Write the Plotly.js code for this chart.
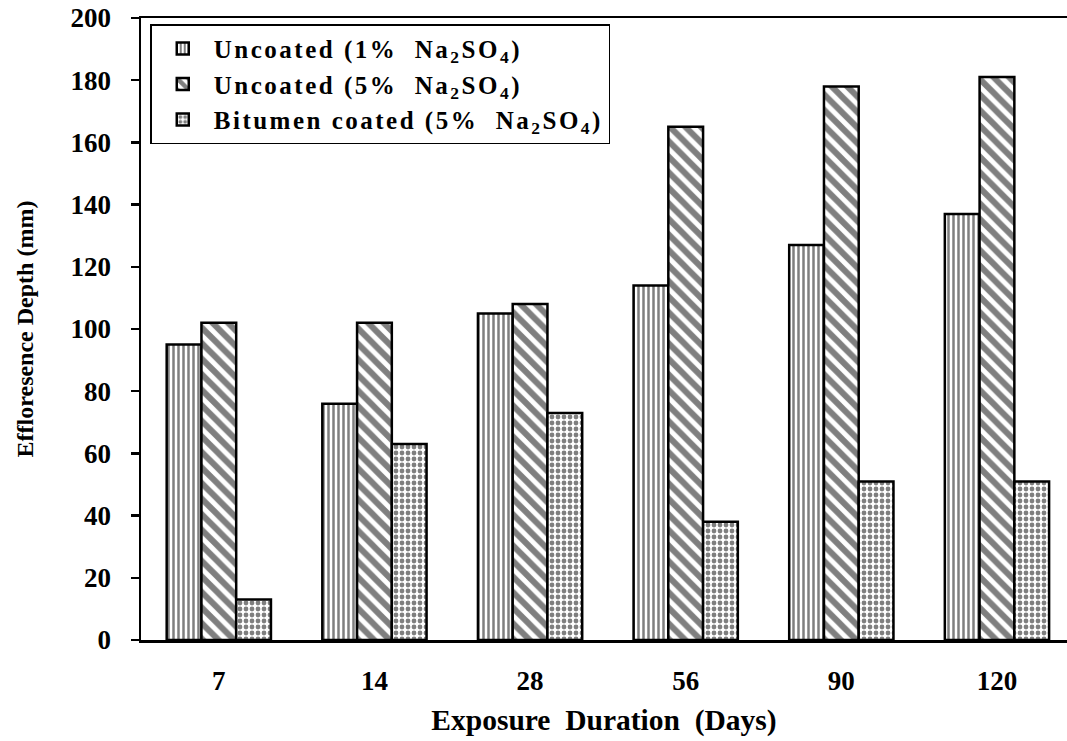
<!DOCTYPE html>
<html>
<head>
<meta charset="utf-8">
<script src="https://cdn.plot.ly/plotly-3.0.1.min.js"></script>
<style>
html,body{margin:0;padding:0;background:#fff;}
#chart{width:1067px;height:741px;}
.legendtext{letter-spacing:2.5px;}
</style>
</head>
<body>
<div id="chart"></div>
<script>
const categories = ["7", "14", "28", "56", "90", "120"];
const uncoated1 = [95, 76, 105, 114, 127, 137];
const uncoated5 = [102, 102, 108, 165, 178, 181];
const bitumen5 = [13, 63, 73, 38, 51, 51];
const seriesNames = [
  "Uncoated (1%  Na<sub>2</sub>SO<sub>4</sub>)",
  "Uncoated (5%  Na<sub>2</sub>SO<sub>4</sub>)",
  "Bitumen coated (5%  Na<sub>2</sub>SO<sub>4</sub>)"
];
const font = "Liberation Serif, Times New Roman, serif";

function bar(y, name, shape, size, solidity) {
  return {
    type: "bar", x: categories, y: y, name: name,
    marker: {
      color: "white",
      line: {color: "black", width: 2.5},
      pattern: {shape: shape, fgcolor: "black", bgcolor: "white", size: size, solidity: solidity, fillmode: "overlay"}
    }
  };
}

const data = [
  bar(uncoated1, seriesNames[0], "|", 5, 0.5),
  bar(uncoated5, seriesNames[1], "\\", 11, 0.55),
  bar(bitumen5, seriesNames[2], ".", 6, 0.5)
];

const layout = {
  width: 1067, height: 741,
  margin: {l: 141, r: 0, t: 18, b: 101},
  paper_bgcolor: "white", plot_bgcolor: "white",
  barmode: "group", bargap: 0.33, bargroupgap: 0,
  font: {family: font, size: 20, color: "black"},
  showlegend: true,
  legend: {
    x: 0.01, y: 0.99, xanchor: "left", yanchor: "top",
    bordercolor: "black", borderwidth: 1.5, bgcolor: "white",
    font: {family: font, size: 25, color: "black", weight: "bold"},
    tracegroupgap: 0, itemwidth: 52
  },
  xaxis: {
    type: "category", range: [-0.5, 5.45],
    showline: true, linecolor: "black", linewidth: 2.5, mirror: "all",
    ticks: "", showgrid: false, zeroline: false,
    tickfont: {family: font, size: 27, color: "black", weight: "bold"},
    ticklabelstandoff: 15,
    title: {text: "Exposure  Duration  (Days)", font: {family: font, size: 29.5, color: "black", weight: "bold"}, standoff: 15}
  },
  yaxis: {
    range: [0, 200], dtick: 20,
    showline: true, linecolor: "black", linewidth: 2.5,
    ticks: "outside", ticklen: 8, tickwidth: 2.5, tickcolor: "black",
    showgrid: false, zeroline: false,
    tickfont: {family: font, size: 27, color: "black", weight: "bold"},
    ticklabelstandoff: 14,
    title: {text: "Effloresence Depth (mm)", font: {family: font, size: 24, color: "black", weight: "bold"}, standoff: 30}
  }
};

Plotly.newPlot("chart", data, layout, {displayModeBar: false, staticPlot: true});
</script>
</body>
</html>
